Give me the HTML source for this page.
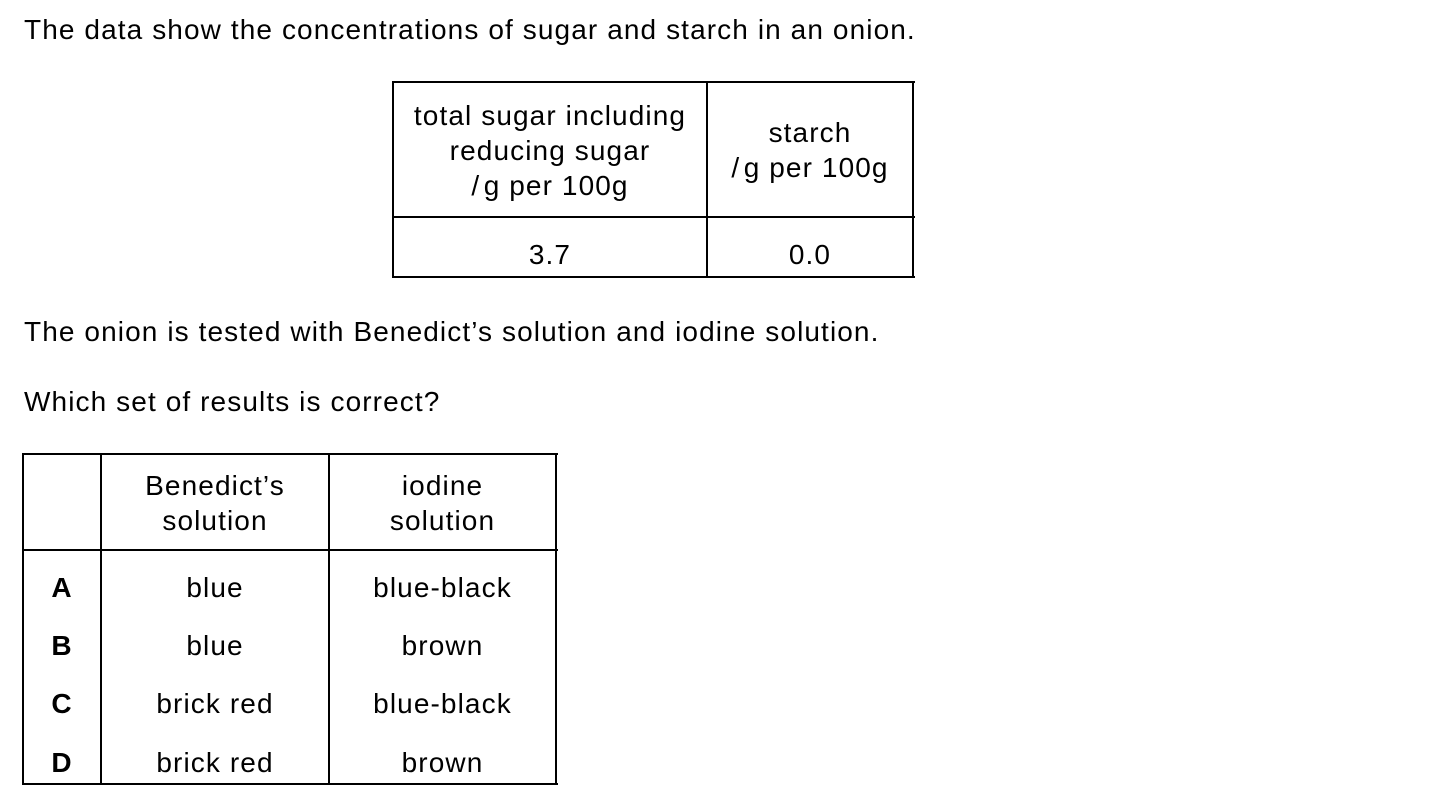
<!DOCTYPE html>
<html><head><style>
body{margin:0;width:1451px;height:803px;background:#fff;position:relative;overflow:hidden;font-family:"Liberation Sans",Arial,sans-serif;font-size:28px;letter-spacing:1.1px;color:#000}
.t{position:absolute;line-height:35px;white-space:nowrap}
.c{position:absolute;text-align:center;line-height:35px;white-space:nowrap}
.h{position:absolute;background:#000;height:2px}
.v{position:absolute;background:#000;width:2px}
</style></head><body>
<div class="t" style="left:24px;top:12px">The data show the concentrations of sugar and starch in an onion.</div>

<div class="h" style="left:392px;top:81px;width:523px"></div>
<div class="h" style="left:392px;top:216px;width:523px"></div>
<div class="h" style="left:392px;top:276px;width:523px"></div>
<div class="v" style="left:392px;top:81px;height:197px"></div>
<div class="v" style="left:706px;top:81px;height:197px"></div>
<div class="v" style="left:912px;top:81px;height:197px"></div>
<div class="c" style="left:394px;width:312px;top:98px">total sugar including<br>reducing sugar<br>/&#8202;g per 100g</div>
<div class="c" style="left:708px;width:204px;top:115px">starch<br>/&#8202;g per 100g</div>
<div class="c" style="left:394px;width:312px;top:237px">3.7</div>
<div class="c" style="left:708px;width:204px;top:237px">0.0</div>

<div class="t" style="left:24px;top:314px">The onion is tested with Benedict’s solution and iodine solution.</div>
<div class="t" style="left:24px;top:384px">Which set of results is correct?</div>

<div class="h" style="left:22px;top:453px;width:536px"></div>
<div class="h" style="left:22px;top:549px;width:536px"></div>
<div class="h" style="left:22px;top:783px;width:536px"></div>
<div class="v" style="left:22px;top:453px;height:332px"></div>
<div class="v" style="left:100px;top:453px;height:332px"></div>
<div class="v" style="left:328px;top:453px;height:332px"></div>
<div class="v" style="left:555px;top:453px;height:332px"></div>
<div class="c" style="left:102px;width:226px;top:468px">Benedict’s<br>solution</div>
<div class="c" style="left:330px;width:225px;top:468px">iodine<br>solution</div>

<div class="c" style="left:24px;width:76px;top:570px;font-weight:bold">A</div>
<div class="c" style="left:102px;width:226px;top:570px">blue</div>
<div class="c" style="left:330px;width:225px;top:570px">blue-black</div>
<div class="c" style="left:24px;width:76px;top:628px;font-weight:bold">B</div>
<div class="c" style="left:102px;width:226px;top:628px">blue</div>
<div class="c" style="left:330px;width:225px;top:628px">brown</div>
<div class="c" style="left:24px;width:76px;top:686px;font-weight:bold">C</div>
<div class="c" style="left:102px;width:226px;top:686px">brick red</div>
<div class="c" style="left:330px;width:225px;top:686px">blue-black</div>
<div class="c" style="left:24px;width:76px;top:745px;font-weight:bold">D</div>
<div class="c" style="left:102px;width:226px;top:745px">brick red</div>
<div class="c" style="left:330px;width:225px;top:745px">brown</div>
</body></html>
